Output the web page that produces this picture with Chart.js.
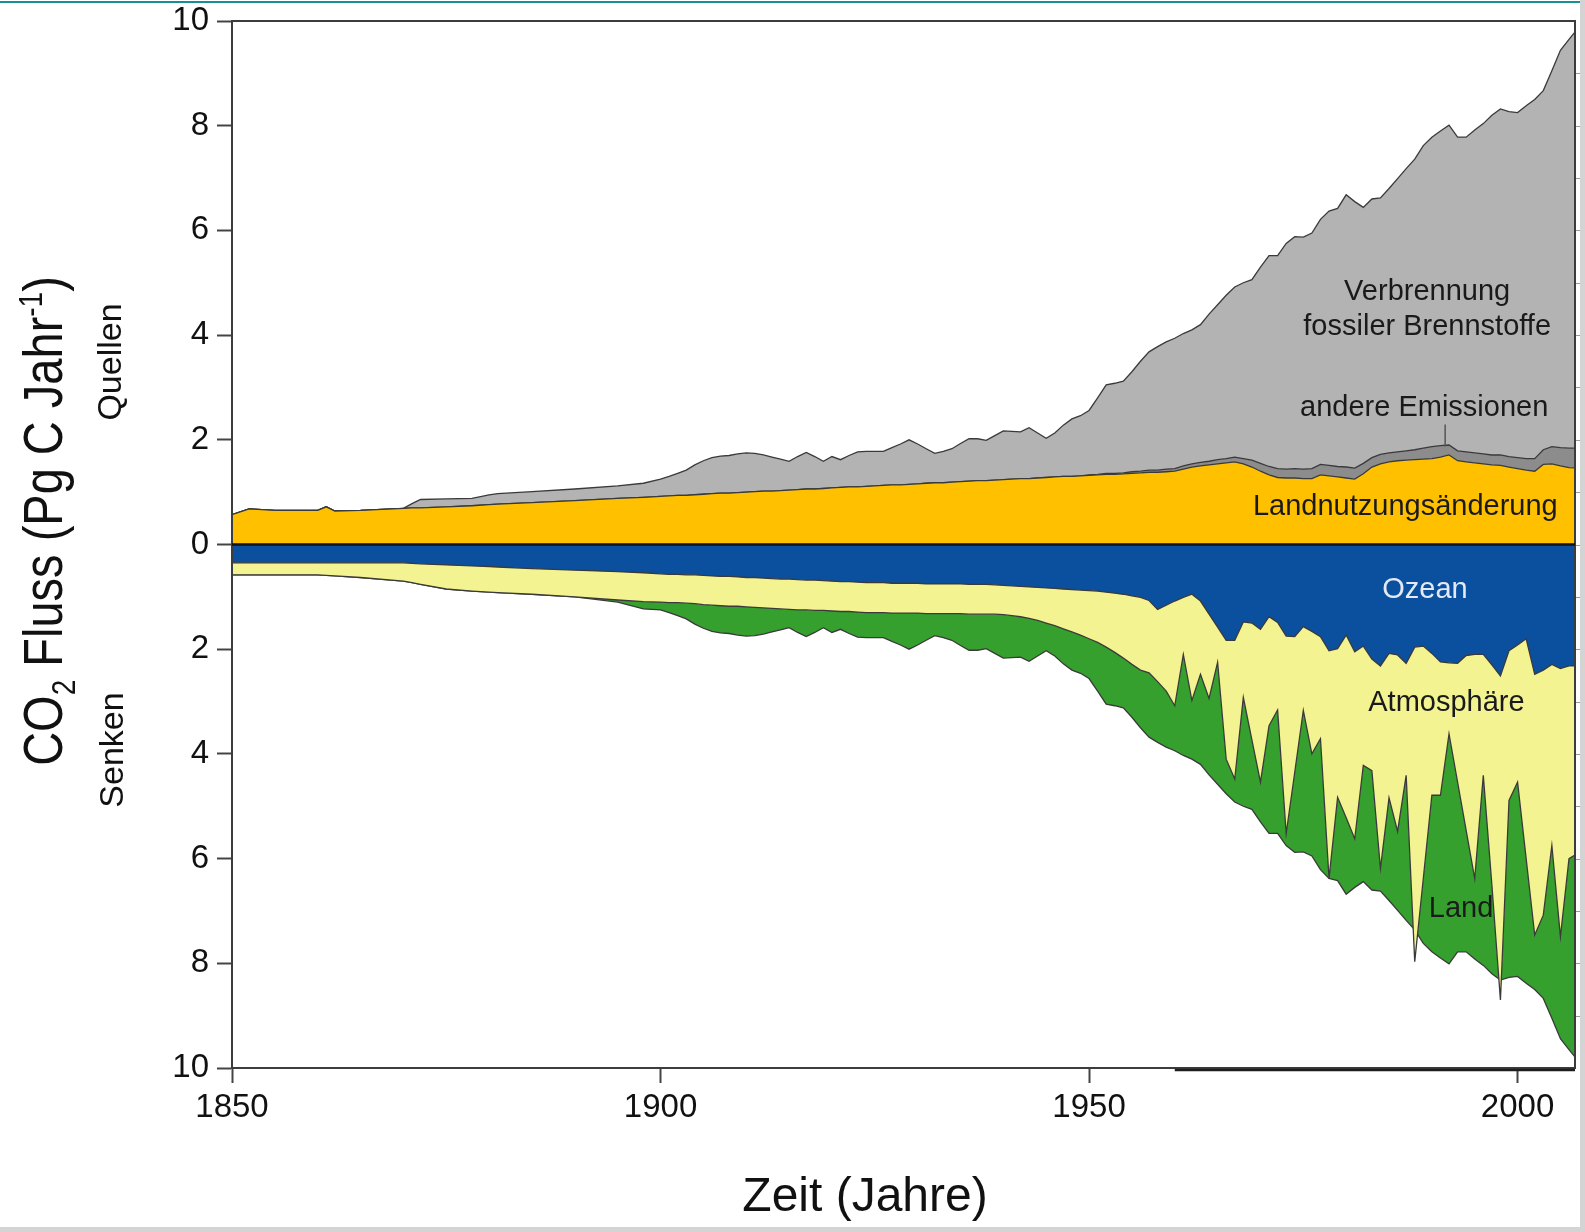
<!DOCTYPE html>
<html lang="de">
<head>
<meta charset="utf-8">
<title>CO2 Fluss</title>
<script src="https://cdn.jsdelivr.net/npm/chart.js@4.4.1/dist/chart.umd.min.js"></script>
<style>
  html, body { margin: 0; padding: 0; background: #fff; }
  #wrap { position: relative; width: 1585px; height: 1232px; overflow: hidden; }
  #co2Chart { position: absolute; left: 0; top: 0; }
  #topLine { position: absolute; left: 0; top: 1px; width: 1585px; height: 2px; background: #16918f; }
  #rightBand { position: absolute; left: 1580px; top: 0; width: 5px; height: 1232px; background: #d4d4d4; }
  #bottomBand { position: absolute; left: 0; top: 1227px; width: 1585px; height: 5px; background: #d4d4d4; }
</style>
</head>
<body>
<div id="wrap">
  <canvas id="co2Chart" width="1585" height="1232"></canvas>
  <div id="topLine"></div>
  <div id="rightBand"></div>
  <div id="bottomBand"></div>
</div>
<script>
// years (before 1900 only where the curves change)
const years = [
  1850, 1852, 1855, 1858, 1860, 1861, 1862, 1865, 1870, 1871,
  1872, 1875, 1878, 1880, 1881, 1885, 1890, 1895, 1898,
  1900, 1901, 1902, 1903, 1904, 1905, 1906, 1907, 1908, 1909,
  1910, 1911, 1912, 1913, 1914, 1915, 1916, 1917, 1918, 1919,
  1920, 1921, 1922, 1923, 1924, 1925, 1926, 1927, 1928, 1929,
  1930, 1931, 1932, 1933, 1934, 1935, 1936, 1937, 1938, 1939,
  1940, 1941, 1942, 1943, 1944, 1945, 1946, 1947, 1948, 1949,
  1950, 1951, 1952, 1953, 1954, 1955, 1956, 1957, 1958, 1959,
  1960, 1961, 1962, 1963, 1964, 1965, 1966, 1967, 1968, 1969,
  1970, 1971, 1972, 1973, 1974, 1975, 1976, 1977, 1978, 1979,
  1980, 1981, 1982, 1983, 1984, 1985, 1986, 1987, 1988, 1989,
  1990, 1991, 1992, 1993, 1994, 1995, 1996, 1997, 1998, 1999,
  2000, 2001, 2002, 2003, 2004, 2005, 2006, 2007
];

// Quellen (Pg C / Jahr)
const landUse = [
  0.57, 0.68, 0.65, 0.65, 0.65, 0.72, 0.64, 0.65, 0.69, 0.70,
  0.70, 0.72, 0.74, 0.76, 0.77, 0.80, 0.84, 0.88, 0.90,
  0.92, 0.93, 0.94, 0.94, 0.95, 0.96, 0.97, 0.98, 0.98, 0.99,
  1.00, 1.01, 1.02, 1.02, 1.03, 1.04, 1.05, 1.06, 1.06, 1.07,
  1.08, 1.09, 1.10, 1.10, 1.11, 1.12, 1.13, 1.14, 1.14, 1.15,
  1.16, 1.17, 1.18, 1.18, 1.19, 1.20, 1.21, 1.22, 1.22, 1.23,
  1.24, 1.25, 1.26, 1.26, 1.27, 1.28, 1.29, 1.30, 1.30, 1.31,
  1.32, 1.33, 1.34, 1.34, 1.35, 1.36, 1.37, 1.38, 1.38, 1.39,
  1.40, 1.44, 1.48, 1.50, 1.52, 1.54, 1.56, 1.58, 1.54, 1.48,
  1.40, 1.33, 1.28, 1.27, 1.27, 1.26, 1.26, 1.33, 1.31, 1.29,
  1.27, 1.25, 1.35, 1.48, 1.54, 1.58, 1.60, 1.61, 1.62, 1.63,
  1.64, 1.67, 1.71, 1.60, 1.58, 1.56, 1.54, 1.52, 1.51, 1.48,
  1.45, 1.42, 1.40, 1.53, 1.54, 1.50, 1.47, 1.46
];
const otherEmissions = [
  0, 0, 0, 0, 0, 0, 0, 0, 0, 0,
  0, 0, 0, 0, 0, 0, 0, 0, 0,
  0, 0, 0, 0, 0, 0, 0, 0, 0, 0,
  0, 0, 0, 0, 0, 0, 0, 0, 0, 0,
  0, 0, 0, 0, 0, 0, 0, 0, 0, 0,
  0, 0, 0, 0, 0, 0, 0, 0, 0, 0,
  0, 0, 0, 0, 0, 0, 0, 0, 0, 0,
  0.01, 0.01, 0.02, 0.02, 0.02, 0.03, 0.03, 0.04, 0.04, 0.05,
  0.05, 0.06, 0.06, 0.07, 0.07, 0.08, 0.08, 0.09, 0.10, 0.13,
  0.15, 0.16, 0.17, 0.17, 0.18, 0.18, 0.19, 0.20, 0.20, 0.20,
  0.21, 0.21, 0.20, 0.18, 0.18, 0.17, 0.17, 0.18, 0.19, 0.21,
  0.23, 0.22, 0.19, 0.19, 0.19, 0.19, 0.19, 0.19, 0.20, 0.20,
  0.21, 0.22, 0.24, 0.28, 0.33, 0.35, 0.37, 0.38
];
const fossilFuel = [
  0, 0, 0, 0, 0, 0, 0, 0, 0, 0.08,
  0.16, 0.15, 0.14, 0.19, 0.20, 0.21, 0.22, 0.24, 0.27,
  0.33, 0.37, 0.42, 0.48, 0.57, 0.64, 0.69, 0.71, 0.72, 0.74,
  0.75, 0.73, 0.69, 0.65, 0.60, 0.55, 0.63, 0.70, 0.62, 0.52,
  0.60, 0.53, 0.60, 0.67, 0.67, 0.66, 0.65, 0.71, 0.78, 0.85,
  0.76, 0.66, 0.56, 0.60, 0.64, 0.73, 0.81, 0.80, 0.77, 0.85,
  0.93, 0.91, 0.89, 0.97, 0.86, 0.75, 0.84, 0.98, 1.10, 1.15,
  1.23, 1.46, 1.69, 1.72, 1.75, 1.91, 2.10, 2.26, 2.36, 2.43,
  2.49, 2.53, 2.56, 2.63, 2.81, 2.96, 3.12, 3.25, 3.36, 3.45,
  3.75, 4.03, 4.07, 4.31, 4.43, 4.43, 4.50, 4.68, 4.86, 4.93,
  5.20, 5.09, 4.89, 4.94, 4.90, 5.05, 5.22, 5.39, 5.55, 5.78,
  5.91, 6.01, 6.11, 5.99, 6.01, 6.17, 6.31, 6.49, 6.61, 6.59,
  6.59, 6.74, 6.86, 6.86, 7.18, 7.59, 7.81, 8.01
];

// Senken (Pg C / Jahr, as positive amounts)
const oceanSink = [
  0.35, 0.35, 0.35, 0.35, 0.35, 0.35, 0.35, 0.35, 0.35, 0.36,
  0.37, 0.39, 0.41, 0.42, 0.43, 0.46, 0.49, 0.52, 0.54,
  0.56, 0.57, 0.57, 0.58, 0.58, 0.59, 0.60, 0.61, 0.61, 0.62,
  0.63, 0.63, 0.64, 0.65, 0.66, 0.66, 0.67, 0.68, 0.68, 0.69,
  0.70, 0.71, 0.71, 0.72, 0.73, 0.73, 0.73, 0.74, 0.74, 0.74,
  0.74, 0.75, 0.75, 0.75, 0.75, 0.75, 0.76, 0.76, 0.76, 0.77,
  0.78, 0.79, 0.80, 0.81, 0.82, 0.83, 0.84, 0.85, 0.86, 0.87,
  0.88, 0.89, 0.91, 0.93, 0.95, 0.98, 1.01, 1.07, 1.24, 1.16,
  1.08, 1.01, 0.95, 1.08, 1.33, 1.58, 1.83, 1.83, 1.48, 1.50,
  1.62, 1.38, 1.49, 1.75, 1.76, 1.57, 1.66, 1.76, 2.03, 1.99,
  1.73, 2.05, 1.94, 2.19, 2.32, 2.08, 2.11, 2.27, 1.96, 1.94,
  2.08, 2.24, 2.26, 2.27, 2.12, 2.10, 2.10, 2.30, 2.51, 2.03,
  1.92, 1.80, 2.48, 2.40, 2.29, 2.37, 2.32, 2.32
];
const atmosphere = [
  0.23, 0.23, 0.23, 0.23, 0.23, 0.24, 0.25, 0.28, 0.35, 0.37,
  0.39, 0.46, 0.48, 0.49, 0.49, 0.49, 0.51, 0.54, 0.55,
  0.54, 0.54, 0.54, 0.54, 0.55, 0.56, 0.56, 0.56, 0.57, 0.56,
  0.56, 0.57, 0.57, 0.57, 0.57, 0.58, 0.58, 0.57, 0.58, 0.57,
  0.57, 0.57, 0.57, 0.57, 0.57, 0.57, 0.57, 0.57, 0.57, 0.57,
  0.57, 0.57, 0.57, 0.57, 0.57, 0.57, 0.57, 0.57, 0.57, 0.56,
  0.56, 0.57, 0.58, 0.60, 0.63, 0.67, 0.71, 0.76, 0.81, 0.86,
  0.92, 0.98, 1.05, 1.13, 1.22, 1.31, 1.39, 1.38, 1.38, 1.64,
  2.00, 1.09, 2.03, 1.40, 1.61, 0.67, 2.27, 2.65, 1.44, 2.23,
  2.92, 2.08, 1.67, 3.77, 2.59, 1.60, 2.34, 1.95, 4.35, 2.84,
  3.49, 3.57, 2.28, 2.13, 3.87, 2.76, 3.37, 2.14, 6.01, 4.44,
  2.71, 2.55, 1.36, 2.27, 3.34, 4.28, 2.31, 4.20, 6.19, 2.86,
  2.62, 4.20, 4.98, 4.68, 3.46, 5.12, 3.68, 3.58
];
const landSink = [
  0, 0, 0, 0, 0, 0, 0, 0, 0, 0,
  0, 0, 0, 0, 0, 0, 0, 0.04, 0.14,
  0.15, 0.19, 0.25, 0.30, 0.39, 0.45, 0.50, 0.52, 0.52, 0.55,
  0.56, 0.54, 0.50, 0.45, 0.40, 0.35, 0.43, 0.51, 0.42, 0.33,
  0.41, 0.34, 0.42, 0.48, 0.48, 0.48, 0.48, 0.54, 0.61, 0.69,
  0.61, 0.51, 0.42, 0.46, 0.51, 0.61, 0.69, 0.69, 0.66, 0.75,
  0.83, 0.80, 0.77, 0.82, 0.68, 0.53, 0.58, 0.67, 0.73, 0.73,
  0.76, 0.93, 1.09, 1.02, 0.95, 1.01, 1.10, 1.23, 1.16, 1.07,
  0.86, 1.93, 1.12, 1.72, 1.46, 2.33, 0.66, 0.44, 2.08, 1.33,
  0.76, 2.06, 2.36, 0.23, 1.53, 2.70, 1.95, 2.50, 0.00, 1.59,
  1.46, 0.93, 2.22, 2.28, 0.43, 1.96, 1.51, 2.77, -0.61, 1.24,
  2.99, 3.11, 4.39, 3.24, 2.32, 1.54, 3.63, 1.70, -0.38, 3.38,
  3.71, 2.38, 1.04, 1.59, 3.30, 1.95, 3.65, 3.95
];

const xTicks = [1850, 1900, 1950, 2000];
const yTicks = [-10, -8, -6, -4, -2, 0, 2, 4, 6, 8, 10];

const family = "'Liberation Sans', Arial, Helvetica, sans-serif";
Chart.defaults.font.family = family;
Chart.defaults.color = '#111';

// running sums give the band edges (sinks drawn downward)
function edge(sign, ...series) {
  return years.map((_, i) => sign * series.reduce((sum, s) => sum + s[i], 0));
}

function band(label, data, color, fill) {
  return {
    label: label,
    data: data,
    backgroundColor: color,
    borderColor: '#3a3a3a',
    borderWidth: 1.3,
    pointRadius: 0,
    tension: 0,
    fill: fill
  };
}

// labels inside the plot, in data units
const bandLabels = [
  { text: 'Verbrennung', x: 1989.45, y: 4.82, color: '#1a1a1a' },
  { text: 'fossiler Brennstoffe', x: 1989.45, y: 4.15, color: '#1a1a1a' },
  { text: 'andere Emissionen', x: 1989.1, y: 2.61, color: '#1a1a1a' },
  { text: 'Landnutzungsänderung', x: 1986.9, y: 0.72, color: '#1a1a1a' },
  { text: 'Ozean', x: 1989.2, y: -0.86, color: '#e3eaf5' },
  { text: 'Atmosphäre', x: 1991.7, y: -3.03, color: '#1a1a1a' },
  { text: 'Land', x: 1993.4, y: -6.97, color: '#1a1a1a' }
];

const overlay = {
  id: 'overlay',
  afterDatasetsDraw(chart) {
    const { ctx, chartArea: a, scales: { x, y } } = chart;
    ctx.save();

    // frame
    ctx.strokeStyle = '#3c3c3c';
    ctx.lineWidth = 2;
    ctx.beginPath();
    ctx.moveTo(a.left, a.bottom);
    ctx.lineTo(a.left, a.top);
    ctx.lineTo(a.right, a.top);
    ctx.lineTo(a.right, a.bottom);
    ctx.lineTo(a.left, a.bottom);
    ctx.stroke();
    ctx.lineWidth = 2.5;
    ctx.strokeStyle = '#1e1e1e';
    ctx.beginPath();
    ctx.moveTo(x.getPixelForValue(1960), a.bottom + 2);
    ctx.lineTo(a.right, a.bottom + 2);
    ctx.stroke();

    // small ticks right of the frame
    ctx.strokeStyle = '#9a9a9a';
    ctx.lineWidth = 1;
    for (let v = -9; v <= 9; v++) {
      const py = Math.round(y.getPixelForValue(v)) + 0.5;
      ctx.beginPath();
      ctx.moveTo(a.right + 1, py);
      ctx.lineTo(a.right + 5, py);
      ctx.stroke();
    }

    // zero line
    const y0 = y.getPixelForValue(0);
    ctx.strokeStyle = '#111';
    ctx.lineWidth = 2.5;
    ctx.beginPath();
    ctx.moveTo(a.left, y0);
    ctx.lineTo(a.right, y0);
    ctx.stroke();

    // leader line for andere Emissionen
    const lx = x.getPixelForValue(1991.55);
    ctx.strokeStyle = '#555';
    ctx.lineWidth = 1.5;
    ctx.beginPath();
    ctx.moveTo(lx, y.getPixelForValue(2.29));
    ctx.lineTo(lx, y.getPixelForValue(1.87));
    ctx.stroke();

    // band labels
    ctx.font = '29px ' + family;
    ctx.textAlign = 'center';
    ctx.textBaseline = 'middle';
    bandLabels.forEach(l => {
      ctx.fillStyle = l.color;
      ctx.fillText(l.text, x.getPixelForValue(l.x), y.getPixelForValue(l.y));
    });

    // x axis title
    ctx.fillStyle = '#111';
    ctx.font = '48px ' + family;
    ctx.fillText('Zeit (Jahre)', 865, 1198);

    // y axis title with sub- and superscript
    ctx.save();
    ctx.translate(43, 521);
    ctx.rotate(-Math.PI / 2);
    ctx.scale(1, 1.2);
    const big = '47px ' + family;
    const small = '28px ' + family;
    const parts = [
      ['CO', big, 0], ['2', small, 11], [' Fluss (Pg C Jahr', big, 0], ['-1', small, -17], [')', big, 0]
    ];
    let total = 0;
    parts.forEach(p => { ctx.font = p[1]; total += ctx.measureText(p[0]).width; });
    let cx = -total / 2;
    ctx.textAlign = 'left';
    ctx.textBaseline = 'alphabetic';
    parts.forEach(p => {
      ctx.font = p[1];
      ctx.fillText(p[0], cx, 16 + p[2]);
      cx += ctx.measureText(p[0]).width;
    });
    ctx.restore();

    // Quellen / Senken
    ctx.font = '34px ' + family;
    ctx.textAlign = 'center';
    ctx.textBaseline = 'middle';
    [['Quellen', 112, 362], ['Senken', 114, 750]].forEach(t => {
      ctx.save();
      ctx.translate(t[1], t[2]);
      ctx.rotate(-Math.PI / 2);
      ctx.fillText(t[0], 0, 0);
      ctx.restore();
    });

    ctx.restore();
  }
};

const ctx = document.getElementById('co2Chart').getContext('2d');
new Chart(ctx, {
  type: 'line',
  data: {
    labels: years,
    datasets: [
      band('Landnutzungsänderung', edge(1, landUse), '#ffc000', 'origin'),
      band('andere Emissionen', edge(1, landUse, otherEmissions), '#8c8c8c', '-1'),
      band('Verbrennung fossiler Brennstoffe', edge(1, landUse, otherEmissions, fossilFuel), '#b3b3b3', '-1'),
      band('Ozean', edge(-1, oceanSink), '#0b4f9f', 'origin'),
      band('Atmosphäre', edge(-1, oceanSink, atmosphere), '#f3f391', '-1'),
      band('Land', edge(-1, oceanSink, atmosphere, landSink), '#35a02e', '-1')
    ]
  },
  options: {
    responsive: false,
    animation: false,
    devicePixelRatio: 1,
    layout: { padding: { top: 21, right: 10, bottom: 0, left: 0 } },
    plugins: {
      legend: { display: false },
      tooltip: { enabled: false }
    },
    scales: {
      x: {
        type: 'linear',
        min: 1850,
        max: 2006.7,
        afterBuildTicks: s => { s.ticks = xTicks.map(v => ({ value: v })); },
        afterFit: s => { s.height = 164; s.paddingLeft = 0; s.paddingRight = 0; },
        grid: { drawOnChartArea: false, drawTicks: true, tickLength: 15, tickColor: '#444', tickWidth: 2 },
        border: { display: true, color: '#3c3c3c', width: 2 },
        ticks: {
          autoSkip: false,
          maxRotation: 0,
          padding: 5,
          color: '#111',
          font: { size: 33 },
          callback: v => String(v)
        }
      },
      y: {
        min: -10,
        max: 10,
        afterBuildTicks: s => { s.ticks = yTicks.map(v => ({ value: v })); },
        afterFit: s => { s.width = 232; s.paddingTop = 0; s.paddingBottom = 0; },
        grid: { drawOnChartArea: false, drawTicks: true, tickLength: 15, tickColor: '#444', tickWidth: 2 },
        border: { display: true, color: '#3c3c3c', width: 2 },
        ticks: {
          padding: 8,
          color: '#111',
          font: { size: 33 },
          callback: v => String(Math.abs(v))
        }
      }
    }
  },
  plugins: [overlay]
});
</script>
</body>
</html>
